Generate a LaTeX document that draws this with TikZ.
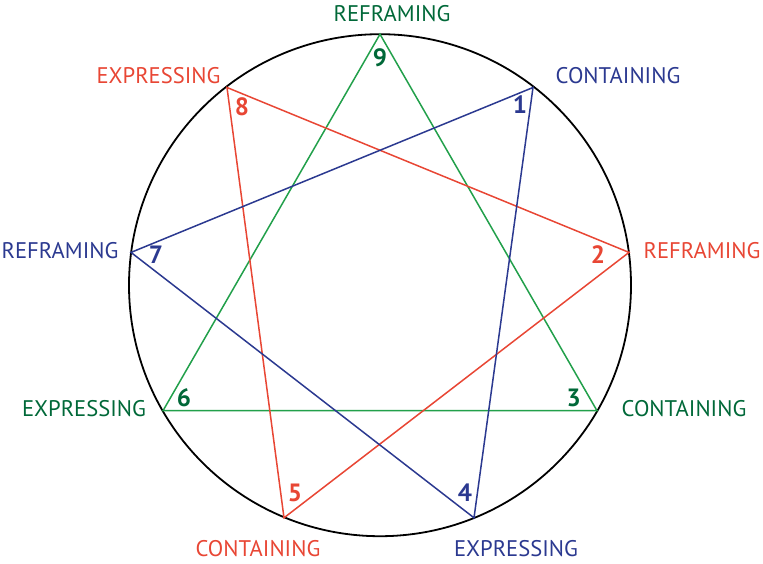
\documentclass[tikz,border=0pt]{standalone}
\usepackage{fontspec}
\setmainfont{PT Sans}
\definecolor{gline}{RGB}{34,160,75}
\definecolor{gtext}{RGB}{0,104,56}
\definecolor{rline}{RGB}{232,70,52}
\definecolor{bline}{RGB}{43,57,144}
\begin{document}
\begin{tikzpicture}[x=1pt,y=-1pt,
  lbl/.style={inner sep=0pt,font=\fontsize{22.6}{22.6}\selectfont},
  num/.style={inner sep=0pt,font=\fontsize{25}{25}\selectfont\bfseries},
  edge/.style={line width=1.5pt,line join=miter}]
\useasboundingbox (0,0) rectangle (763,563);
\coordinate (c) at (380,285.2);
\draw[line width=1.8pt] (c) circle[radius=251];
\coordinate (v9) at (380,34.2);
\coordinate (v1) at (533,87.5);
\coordinate (v2) at (629,252.4);
\coordinate (v3) at (597,410.7);
\coordinate (v4) at (474,517.8);
\coordinate (v5) at (284,517.8);
\coordinate (v6) at (163,410.7);
\coordinate (v7) at (131,252.4);
\coordinate (v8) at (227,87.5);
\draw[edge,gline] (v9) -- (v3) -- (v6) -- cycle;
\draw[edge,rline] (v8) -- (v2) -- (v5) -- cycle;
\draw[edge,bline] (v1) -- (v4) -- (v7) -- cycle;
% numbers
\node[num,gtext] (n9) at (380,57.5) {9};
\node[num,bline] (n1) at (520,105) {1};
\node[num,rline] (n2) at (598,255) {2};
\node[num,gtext] (n3) at (573.7,397.5) {3};
\node[num,bline] (n4) at (465,492.5) {4};
\node[num,rline] (n5) at (295,492.5) {5};
\node[num,gtext] (n6) at (184,398) {6};
\node[num,bline] (n7) at (156,255) {7};
\node[num,rline] (n8) at (242,107) {8};
% labels
\node[lbl,gtext] (l9) at (392,13.5) {REFRAMING};
\node[lbl,bline] (l1) at (618,76) {CONTAINING};
\node[lbl,rline] (l2) at (702,251) {REFRAMING};
\node[lbl,gtext] (l3) at (684,408.7) {CONTAINING};
\node[lbl,bline] (l4) at (516,549) {EXPRESSING};
\node[lbl,rline] (l5) at (258,549) {CONTAINING};
\node[lbl,gtext] (l6) at (84,408.7) {EXPRESSING};
\node[lbl,bline] (l7) at (60,251) {REFRAMING};
\node[lbl,rline] (l8) at (158.5,75.5) {EXPRESSING};
\end{tikzpicture}
\end{document}
